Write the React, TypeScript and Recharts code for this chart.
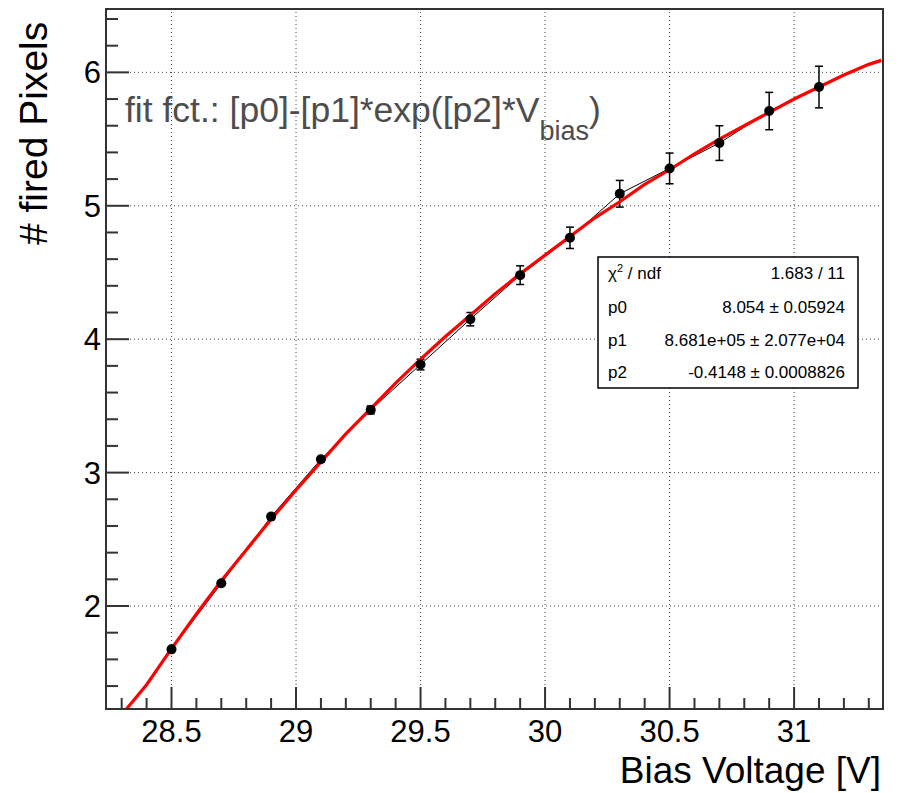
import React from 'react';
import { ComposedChart, Line, Scatter, ErrorBar, XAxis, YAxis, ReferenceLine, ReferenceArea } from 'recharts';

// measured points (bias voltage, fired pixels, error)
const biasV = [28.5, 28.7, 28.9, 29.1, 29.3, 29.5, 29.7, 29.9, 30.1, 30.3, 30.5, 30.7, 30.9, 31.1];
const firedPx = [1.675, 2.17, 2.67, 3.1, 3.47, 3.81, 4.15, 4.48, 4.76, 5.09, 5.28, 5.47, 5.71, 5.89];
const firedErr = [0.01, 0.015, 0.02, 0.02, 0.03, 0.04, 0.05, 0.07, 0.08, 0.1, 0.115, 0.13, 0.14, 0.156];

// red fit curve
const fitV = [28.32, 28.4, 28.5, 28.6, 28.7, 28.8, 28.9, 29.0, 29.1, 29.2, 29.3, 29.4, 29.5, 29.6, 29.7, 29.8,
  29.9, 30.0, 30.1, 30.2, 30.3, 30.4, 30.5, 30.6, 30.7, 30.8, 30.9, 31.0, 31.1, 31.2, 31.3, 31.35];
const fitPx = [1.23, 1.41, 1.68, 1.94, 2.19, 2.42, 2.65, 2.87, 3.08, 3.29, 3.48, 3.67, 3.85, 4.02, 4.18, 4.34,
  4.49, 4.63, 4.77, 4.91, 5.03, 5.16, 5.27, 5.39, 5.5, 5.6, 5.7, 5.8, 5.89, 5.98, 6.06, 6.09];

const xMajor = [28.5, 29, 29.5, 30, 30.5, 31];
const xTicks = [28.3, 28.4, 28.5, 28.6, 28.7, 28.8, 28.9, 29, 29.1, 29.2, 29.3, 29.4, 29.5, 29.6, 29.7, 29.8,
  29.9, 30, 30.1, 30.2, 30.3, 30.4, 30.5, 30.6, 30.7, 30.8, 30.9, 31, 31.1, 31.2, 31.3];
const yMajor = [2, 3, 4, 5, 6];
const yTicks = [1.4, 1.6, 1.8, 2, 2.2, 2.4, 2.6, 2.8, 3, 3.2, 3.4, 3.6, 3.8, 4, 4.2, 4.4, 4.6, 4.8, 5,
  5.2, 5.4, 5.6, 5.8, 6, 6.2, 6.4];

const statRows = [
  ['p0', '8.054 \u00b1 0.05924'],
  ['p1', '8.681e+05 \u00b1 2.077e+04'],
  ['p2', '-0.4148 \u00b1 0.0008826'],
];

const X_DOM: [number, number] = [28.237, 31.357];
const Y_DOM: [number, number] = [1.228, 6.475];
const PLOT_LEFT = 106;
const PLOT_BOTTOM = 709;
const AXIS = '#333';
const FONT = '"Liberation Sans", Arial, Helvetica, sans-serif';

const pts = biasV.map((v, i) => ({ x: v, y: firedPx[i], err: firedErr[i] }));
const fit = fitV.map((v, i) => ({ x: v, y: fitPx[i] }));

const isIn = (arr: number[], v: number) => arr.some(a => Math.abs(a - v) < 1e-6);

function XTick(props: any) {
  const { x, payload } = props;
  const major = isIn(xMajor, payload.value);
  return (
    <g>
      <line x1={x} x2={x} y1={PLOT_BOTTOM} y2={PLOT_BOTTOM - (major ? 22 : 11)} stroke={AXIS} strokeWidth={2} />
      {major && (
        <text x={x} y={742} textAnchor="middle" fontSize={31} fontFamily={FONT} fill="#000">
          {String(payload.value)}
        </text>
      )}
    </g>
  );
}

function YTick(props: any) {
  const { y, payload } = props;
  const major = isIn(yMajor, payload.value);
  return (
    <g>
      <line x1={PLOT_LEFT} x2={PLOT_LEFT + (major ? 23 : 12)} y1={y} y2={y} stroke={AXIS} strokeWidth={2} />
      {major && (
        <text x={101} y={y + 11} textAnchor="end" fontSize={31} fontFamily={FONT} fill="#000">
          {String(payload.value)}
        </text>
      )}
    </g>
  );
}

const Dot = (p: any) => <circle cx={p.cx} cy={p.cy} r={5} fill="#000" />;

export default function App() {
  return (
    <div style={{ position: 'absolute', left: 0, top: 0, width: 900, height: 793, background: '#fff' }}>
      <ComposedChart width={900} height={793} margin={{ top: 9, right: 17, bottom: 0, left: 0 }}>
        <XAxis
          dataKey="x" type="number" domain={X_DOM} allowDataOverflow
          ticks={xTicks} interval={0} tickLine={false} height={84}
          axisLine={{ stroke: AXIS, strokeWidth: 2 }}
          tick={(p: any) => <XTick {...p} />}
        />
        <YAxis
          type="number" domain={Y_DOM} allowDataOverflow
          ticks={yTicks} interval={0} tickLine={false} width={106}
          axisLine={{ stroke: AXIS, strokeWidth: 2 }}
          tick={(p: any) => <YTick {...p} />}
        />
        {xMajor.map(v => (
          <ReferenceLine key={'gx' + v} x={v} stroke="#444" strokeDasharray="1 3" strokeWidth={1} />
        ))}
        {yMajor.map(v => (
          <ReferenceLine key={'gy' + v} y={v} stroke="#444" strokeDasharray="1 3" strokeWidth={1} />
        ))}
        <ReferenceArea x1={X_DOM[0]} x2={X_DOM[1]} y1={Y_DOM[0]} y2={Y_DOM[1]} fill="none" stroke={AXIS} strokeWidth={2} fillOpacity={0} />
        <Line data={pts} dataKey="y" type="linear" stroke="#000" strokeWidth={1} dot={false} isAnimationActive={false} />
        <Scatter data={pts} dataKey="y" shape={Dot} isAnimationActive={false}>
          <ErrorBar dataKey="err" direction="y" width={4} stroke="#000" strokeWidth={1.5} isAnimationActive={false} />
        </Scatter>
        <Line data={fit} dataKey="y" type="linear" stroke="#ff0000" strokeWidth={3.2} dot={false} isAnimationActive={false} />
      </ComposedChart>

      <svg width={900} height={793} style={{ position: 'absolute', left: 0, top: 0, pointerEvents: 'none' }} fontFamily={FONT}>
        <text transform="translate(47,245) rotate(-90)" fontSize={39} fill="#000"># fired Pixels</text>
        <text x={881} y={783} textAnchor="end" fontSize={37} fill="#000">Bias Voltage [V]</text>
        <text x={125} y={122} fontSize={35.5} fill="#4d4d4d">
          fit fct.: [p0]-[p1]*exp([p2]*V
          <tspan fontSize={27} dy={18}>bias</tspan>
          <tspan dy={-18}>)</tspan>
        </text>
        <rect x={598} y={257} width={260} height={131} fill="#fff" stroke="#000" strokeWidth={1.5} />
        <text x={608} y={279} fontSize={17} fill="#000">
          {'\u03c7'}<tspan fontSize={11} dy={-7}>2</tspan><tspan dy={7}> / ndf</tspan>
        </text>
        <text x={845} y={279} fontSize={17} textAnchor="end" fill="#000">1.683 / 11</text>
        {statRows.map((r, i) => (
          <g key={r[0]}>
            <text x={608} y={313 + i * 32.7} fontSize={17} fill="#000">{r[0]}</text>
            <text x={845} y={313 + i * 32.7} fontSize={17} textAnchor="end" fill="#000">{r[1]}</text>
          </g>
        ))}
      </svg>
    </div>
  );
}
